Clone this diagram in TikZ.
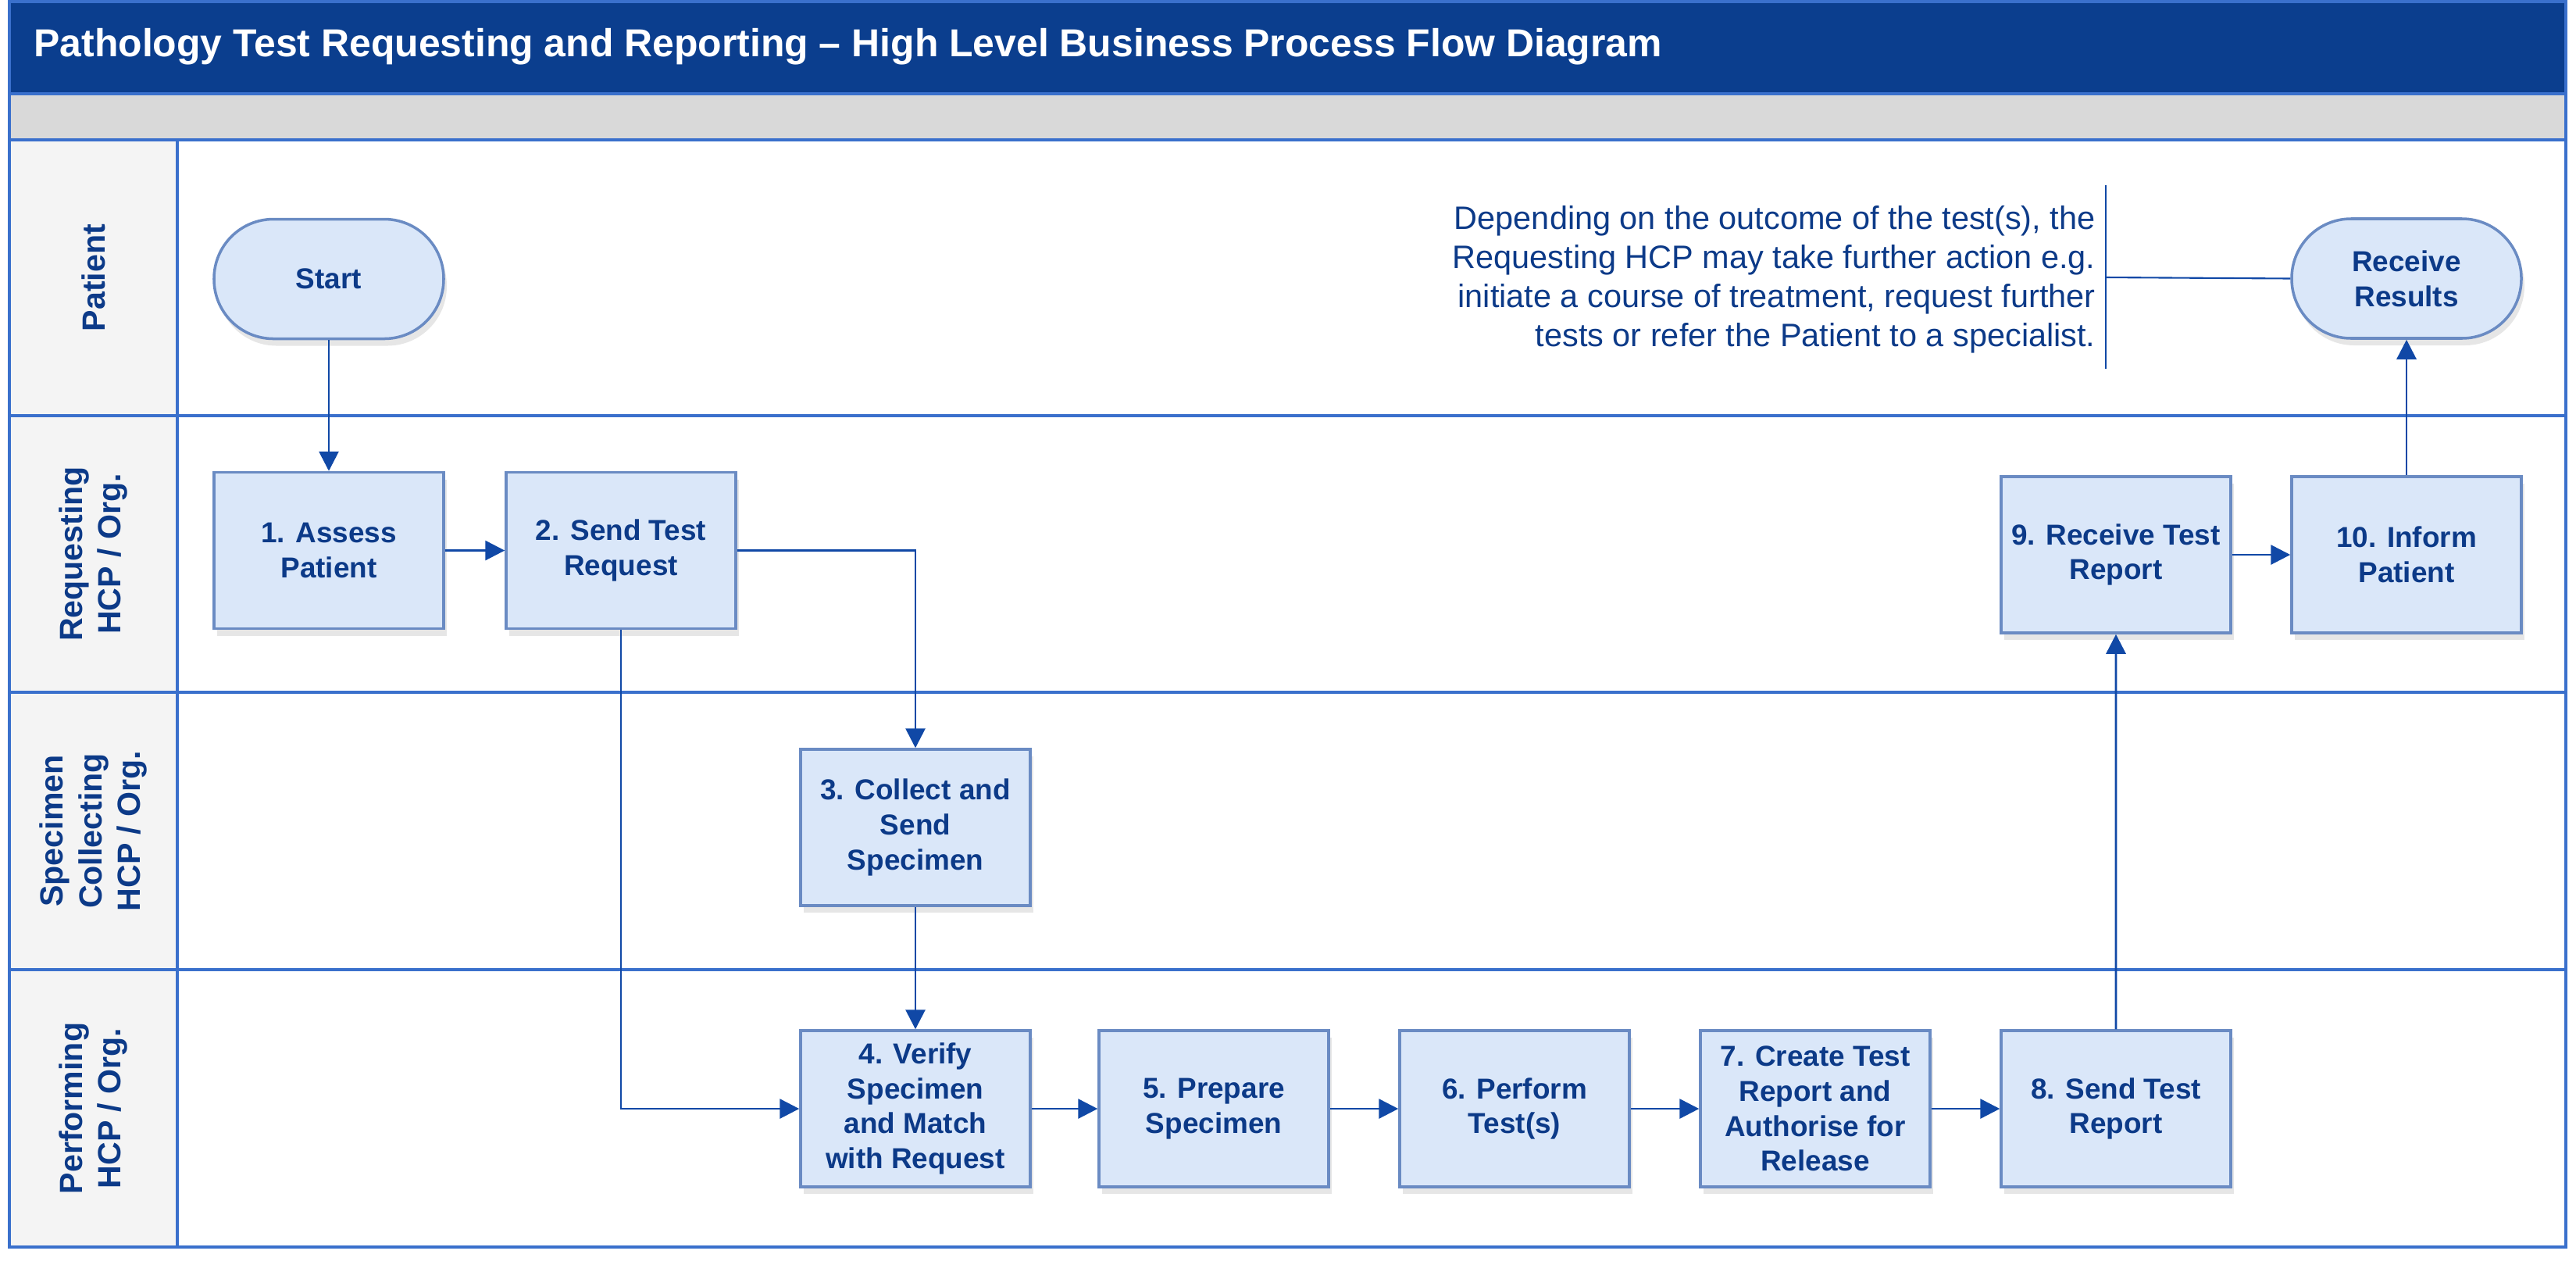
\documentclass[tikz,border=0pt]{standalone}
\usepackage{fontspec}
\setmainfont{Liberation Sans}
\usepackage{xcolor}
\usepackage{tikz}
\usetikzlibrary{arrows.meta,positioning,shadows}
\definecolor{palNavy}{HTML}{0B3E8E}
\definecolor{palInk}{HTML}{0C3A88}
\definecolor{palLane}{HTML}{3A70CC}
\definecolor{palFill}{HTML}{DAE7F9}
\definecolor{palEdge}{HTML}{6A8BC3}
\definecolor{palWire}{HTML}{1048A6}
\definecolor{palBand}{HTML}{D9D9D9}
\definecolor{palHead}{HTML}{F4F4F4}

\begin{document}
\begin{tikzpicture}[
  font=\bfseries\fontsize{10.5}{12.7}\selectfont,
  box/.style={draw=palEdge, fill=palFill, line width=1pt, text=palInk, align=center, inner sep=2pt, minimum width=2.94cm, minimum height=2cm, drop shadow={shadow xshift=0.4mm, shadow yshift=-0.9mm, opacity=0.2}},
  termbox/.style={box, rounded corners=7.6mm, minimum height=1.53cm},
  lane/.style={draw=palLane, line width=1.2pt},
  lanelabel/.style={rotate=90, text=palInk, align=center, font=\bfseries\fontsize{11.7}{14}\selectfont},
  arrow/.style={-{Triangle[length=2.5mm, width=2.5mm]}, draw=palWire, line width=0.8pt},
  link/.style={draw=palWire, line width=0.6pt},
]
\useasboundingbox (0,0) rectangle (32.98,-16.18);

% frame and lanes
\fill[palNavy] (0.12,-0.02) rectangle (32.85,-1.20);
\fill[palBand] (0.12,-1.20) rectangle (32.85,-1.79);
\fill[palHead] (0.12,-1.79) rectangle (2.27,-15.96);
\draw[lane] (0.12,-1.20) -- (32.85,-1.20);
\draw[lane] (0.12,-1.79) -- (32.85,-1.79);
\foreach \y in {5.32,8.86,12.41} \draw[lane] (0.12,-\y) -- (32.85,-\y);
\draw[lane] (2.27,-1.79) -- (2.27,-15.96);
\draw[lane] (0.12,-0.02) rectangle (32.85,-15.96);

\node[anchor=west, text=white, font=\bfseries\fontsize{14.2}{17}\selectfont] (title) at (0.31,-0.60) {Pathology Test Requesting and Reporting – High Level Business Process Flow Diagram};

\node[lanelabel] (lpat) at (1.195,-3.555) {Patient};
\node[lanelabel] (lreq) at (1.195,-7.09) {Requesting\\HCP / Org.};
\node[lanelabel] (lspc) at (1.195,-10.635) {Specimen\\Collecting\\HCP / Org.};
\node[lanelabel] (lprf) at (1.195,-14.185) {Performing\\HCP / Org.};

% process steps
\node[termbox] (start) at (4.21,-3.57) {Start};
\node[box, below=1.675cm of start] (assess) {1. Assess\\Patient};
\node[box, right=0.765cm of assess] (sendreq) {2. Send Test\\Request};
\node[box] (collect) at (11.72,-10.59) {3. Collect and\\Send\\Specimen};
\node[box, below=1.565cm of collect] (verify) {4. Verify\\Specimen\\and Match\\with Request};
\node[box, right=0.845cm of verify] (prep) {5. Prepare\\Specimen};
\node[box, right=0.875cm of prep] (perform) {6. Perform\\Test(s)};
\node[box, right=0.875cm of perform] (report) {7. Create Test\\Report and\\Authorise for\\Release};
\node[box, right=0.875cm of report] (sendrep) {8. Send Test\\Report};
\node[box] (recv) at (27.09,-7.10) {9. Receive Test\\Report};
\node[box, right=0.745cm of recv] (inform) {10. Inform\\Patient};
\node[termbox, above=1.735cm of inform] (results) {Receive\\Results};

% note on the outcome
\node[anchor=east, align=right, text=palInk, font=\mdseries\fontsize{11.8}{14.2}\selectfont] (note) at (26.95,-3.58) {Depending on the outcome of the test(s), the\\Requesting HCP may take further action e.g.\\initiate a course of treatment, request further\\tests or refer the Patient to a specialist.};
\coordinate (brtop) at (26.96,-2.37);
\coordinate (brbot) at (26.96,-4.72);
\coordinate (brmid) at (26.96,-3.55);
\draw[link] (brtop) -- (brbot);
\draw[link] (brmid) -- (results.west);

\draw[arrow] (start) -- (assess);
\draw[arrow] (assess) -- (sendreq);
\draw[arrow] (sendreq.east) -| (collect.north);
\draw[arrow] (sendreq.south) |- (verify.west);
\draw[arrow] (collect) -- (verify);
\foreach \a/\b in {verify/prep, prep/perform, perform/report, report/sendrep}
  \draw[arrow] (\a) -- (\b);
\draw[arrow] (sendrep) -- (recv);
\draw[arrow] (recv) -- (inform);
\draw[arrow] (inform) -- (results);
\end{tikzpicture}
\end{document}
